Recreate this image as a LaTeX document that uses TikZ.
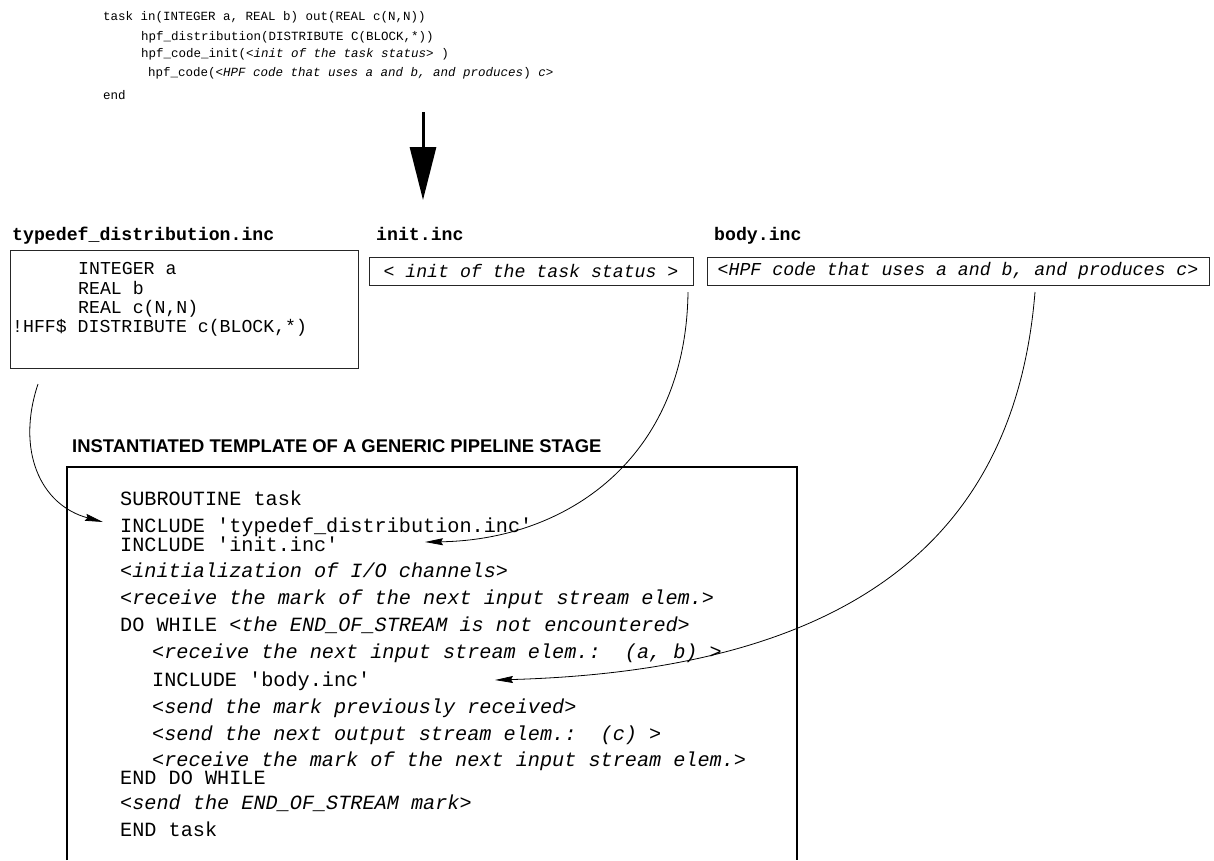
\documentclass[tikz,border=0pt]{standalone}
\usepackage{fontspec}
\newfontfamily\mono{Liberation Mono}
\newfontfamily\hsans{Liberation Sans}
\usetikzlibrary{arrows.meta}
\begin{document}
\begin{tikzpicture}[x=1pt,y=-1pt,
  topcode/.style={anchor=base west, inner sep=0pt, font=\mono\fontsize{12.5}{14}\selectfont},
  boxtxt/.style={anchor=base west, inner sep=0pt, font=\mono\fontsize{18.2}{20}\selectfont},
  bigtxt/.style={anchor=base west, inner sep=0pt, font=\mono\fontsize{20.2}{22}\selectfont},
  filetitle/.style={anchor=base west, inner sep=0pt, font=\mono\bfseries\fontsize{18.2}{20}\selectfont},
  filebox/.style={draw=black!85, line width=0.9pt},
  link/.style={line width=0.8pt, -{Stealth[length=18pt,width=7pt,inset=2pt]}},
]
\useasboundingbox (0,0) rectangle (1214,860);

% top code
\node[topcode] (t1) at (103,20) {task in(INTEGER a, REAL b) out(REAL c(N,N))};
\node[topcode] (t2) at (141,40) {hpf\_distribution(DISTRIBUTE C(BLOCK,*))};
\node[topcode] (t3) at (141,57.5) {hpf\_code\_init(\textit{<init of the task status>} )};
\node[topcode] (t4) at (148,76) {hpf\_code(\textit{<HPF code that uses a and b, and produces}) \textit{c>}};
\node[topcode] (t5) at (103,99) {end};

% big arrow
\coordinate (bigA) at (423,112);
\coordinate (bigB) at (423,200);
\draw[line width=3pt, -{Triangle[length=53pt,width=26pt]}] (bigA) -- (bigB);

% file boxes
\node[filetitle] (tdt) at (12,240) {typedef\_distribution.inc};
\node[filebox, anchor=north west, minimum width=348pt, minimum height=118pt, inner sep=0pt] (tdbox) at (10,250) {};
\node[boxtxt] (td1) at (78,274) {INTEGER a};
\node[boxtxt] (td2) at (78,294) {REAL b};
\node[boxtxt] (td3) at (78,313) {REAL c(N,N)};
\node[boxtxt] (td4) at (12,332) {!HFF\$ DISTRIBUTE c(BLOCK,*)};

\node[filetitle] (it) at (376,240) {init.inc};
\node[filebox, minimum width=324pt, minimum height=28pt, inner sep=0pt,
      font=\mono\itshape\fontsize{18.2}{20}\selectfont] (initbox) at (531,271) {< init of the task status >};

\node[filetitle] (bt) at (714,240) {body.inc};
\node[filebox, minimum width=502pt, minimum height=28pt, inner sep=0pt,
      font=\mono\itshape\fontsize{18.2}{20}\selectfont] (bodybox) at (958,271) {<HPF code that uses a and b, and produces c>};

% heading
\node[anchor=base west, inner sep=0pt, font=\hsans\bfseries\fontsize{18.4}{20}\selectfont] (head) at (72,452) {INSTANTIATED TEMPLATE OF A GENERIC PIPELINE STAGE};

% template box (open at the bottom)
\draw[line width=2pt] (67,860) -- (67,467) -- (797,467) -- (797,860);

\node[bigtxt] (l1) at (120,505) {SUBROUTINE task};
\node[bigtxt] (l2) at (120,532) {INCLUDE 'typedef\_distribution.inc'};
\node[bigtxt] (l3) at (120,551) {INCLUDE 'init.inc'};
\node[bigtxt] (l4) at (120,577) {\textit{<initialization of I/O channels>}};
\node[bigtxt] (l5) at (120,604) {\textit{<receive the mark of the next input stream elem.>}};
\node[bigtxt] (l6) at (120,631) {DO WHILE \textit{<the END\_OF\_STREAM is not encountered>}};
\node[bigtxt] (l7) at (152,658) {\textit{<receive the next input stream elem.:\ \ (a, b) >}};
\node[bigtxt] (l8) at (152,686) {INCLUDE 'body.inc'};
\node[bigtxt] (l9) at (152,713) {\textit{<send the mark previously received>}};
\node[bigtxt] (l10) at (152,740) {\textit{<send the next output stream elem.:\ \ (c) >}};
\node[bigtxt] (l11) at (152,766) {\textit{<receive the mark of the next input stream elem.>}};
\node[bigtxt] (l12) at (120,784) {END DO WHILE};
\node[bigtxt] (l13) at (120,809) {\textit{<send the END\_OF\_STREAM mark>}};
\node[bigtxt] (l14) at (120,836) {END task};

% connectors
\coordinate (tdout) at (38,384);
\coordinate (tdin) at (103,522);
\draw[link] (tdout) .. controls (16,450) and (40,505) .. (tdin);

\coordinate (initout) at (688,292);
\coordinate (initin) at (425,542);
\draw[link] (initout) .. controls (686,460) and (565,540) .. (initin);

\coordinate (bodyout) at (1035,292);
\coordinate (bodyin) at (495,680);
\draw[link] (bodyout) .. controls (1015,540) and (850,670) .. (bodyin);
\end{tikzpicture}
\end{document}
